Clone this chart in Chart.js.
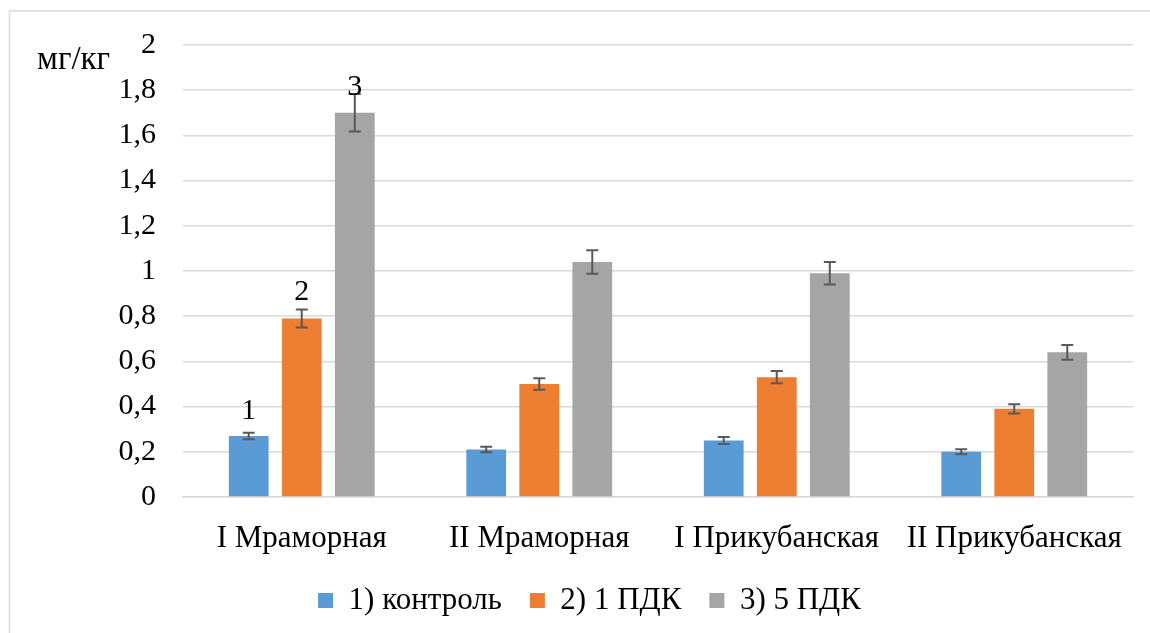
<!DOCTYPE html>
<html>
<head>
<meta charset="utf-8">
<script src="https://cdn.jsdelivr.net/npm/chart.js@4"></script>
<style>
  html, body { margin: 0; padding: 0; background: #ffffff; }
  #wrap { width: 1150px; height: 633px; }
</style>
</head>
<body>
<div id="wrap"><canvas id="c" width="1150" height="633"></canvas></div>
<script>
const categories = ['I Мраморная', 'II Мраморная', 'I Прикубанская', 'II Прикубанская'];
const seriesNames = ['1) контроль', '2) 1 ПДК', '3) 5 ПДК'];
const controlValues = [0.27, 0.21, 0.25, 0.20];
const pdk1Values = [0.79, 0.50, 0.53, 0.39];
const pdk5Values = [1.70, 1.04, 0.99, 0.64];
const controlErrors = [0.014, 0.012, 0.015, 0.011];
const pdk1Errors = [0.04, 0.025, 0.027, 0.02];
const pdk5Errors = [0.083, 0.052, 0.05, 0.033];
const yTickLabels = ['0', '0,2', '0,4', '0,6', '0,8', '1', '1,2', '1,4', '1,6', '1,8', '2'];
const barNumberLabels = ['1', '2', '3'];
const barNumberLabelValues = [0.345, 0.87, 1.78];
const unitLabel = 'мг/кг';

const FONT = '"Liberation Serif", "Times New Roman", serif';
const colors = ['#5B9BD5', '#ED7D31', '#A5A5A5'];
const seriesValues = [controlValues, pdk1Values, pdk5Values];
const seriesErrors = [controlErrors, pdk1Errors, pdk5Errors];

const frameAndExtras = {
  id: 'frameAndExtras',
  afterLayout(chart) {
    // legend in the original is centred on the whole chart object
    const lg = chart.legend;
    if (lg) { lg.left += 23; lg.right += 23; }
  },
  beforeDraw(chart) {
    const ctx = chart.ctx;
    ctx.save();
    ctx.fillStyle = '#ffffff';
    ctx.fillRect(0, 0, chart.width, chart.height);
    ctx.strokeStyle = '#d9d9d9';
    ctx.lineWidth = 1.5;
    ctx.beginPath();
    ctx.moveTo(9.5, chart.height);
    ctx.lineTo(9.5, 11);
    ctx.lineTo(chart.width, 11);
    ctx.stroke();
    ctx.restore();
  },
  afterDatasetsDraw(chart) {
    const ctx = chart.ctx;
    const yScale = chart.scales.y;
    ctx.save();
    ctx.strokeStyle = '#595959';
    ctx.lineWidth = 2;
    chart.data.datasets.forEach((ds, i) => {
      const meta = chart.getDatasetMeta(i);
      meta.data.forEach((bar, j) => {
        const v = seriesValues[i][j];
        const e = seriesErrors[i][j];
        const yTop = yScale.getPixelForValue(v + e);
        const yBot = yScale.getPixelForValue(v - e);
        const x = bar.x;
        ctx.beginPath();
        ctx.moveTo(x, yTop); ctx.lineTo(x, yBot);
        ctx.moveTo(x - 6, yTop); ctx.lineTo(x + 6, yTop);
        ctx.moveTo(x - 6, yBot); ctx.lineTo(x + 6, yBot);
        ctx.stroke();
      });
    });
    // numbers above first group
    ctx.fillStyle = '#000000';
    ctx.font = '30px ' + FONT;
    ctx.textAlign = 'center';
    ctx.textBaseline = 'alphabetic';
    barNumberLabels.forEach((txt, i) => {
      const bar = chart.getDatasetMeta(i).data[0];
      ctx.fillText(txt, bar.x, yScale.getPixelForValue(barNumberLabelValues[i]));
    });
    // unit
    ctx.textAlign = 'left';
    ctx.textBaseline = 'middle';
    ctx.font = '33px ' + FONT;
    ctx.fillText(unitLabel, 37, 60);
    ctx.restore();
  }
};

new Chart(document.getElementById('c'), {
  type: 'bar',
  data: {
    labels: categories,
    datasets: seriesNames.map((name, i) => ({
      label: name,
      data: seriesValues[i],
      backgroundColor: colors[i],
      borderWidth: 0,
      categoryPercentage: 0.67,
      barPercentage: 0.75
    }))
  },
  options: {
    responsive: false,
    devicePixelRatio: 1,
    animation: false,
    layout: { padding: { left: 0, right: 17, top: 44, bottom: 7 } },
    plugins: {
      tooltip: { enabled: false },
      legend: {
        position: 'bottom',
        labels: {
          boxWidth: 15,
          boxHeight: 15,
          padding: 28,
          color: '#000000',
          font: { family: FONT, size: 31 }
        }
      }
    },
    scales: {
      x: {
        grid: { display: false, drawTicks: false },
        border: { display: true, color: '#d9d9d9', width: 1.5 },
        ticks: { color: '#000000', font: { family: FONT, size: 31 }, padding: 23, maxRotation: 0 },
        afterFit(scale) { scale.height = 60; }
      },
      y: {
        min: 0,
        max: 2,
        ticks: {
          stepSize: 0.2,
          color: '#000000',
          font: { family: FONT, size: 30 },
          padding: 27,
          callback: (v, i) => yTickLabels[i]
        },
        grid: { color: '#d9d9d9', lineWidth: 1.5, drawTicks: false },
        border: { display: false },
        afterFit(scale) { scale.width = 183; }
      }
    }
  },
  plugins: [frameAndExtras]
});
</script>
</body>
</html>
